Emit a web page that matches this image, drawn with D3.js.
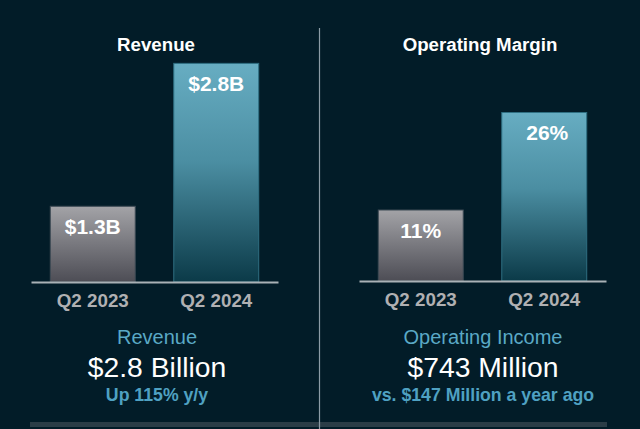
<!DOCTYPE html>
<html><head><meta charset="utf-8">
<script src="https://cdn.jsdelivr.net/npm/d3@7"></script>
<style>
html,body{margin:0;padding:0;background:#021c28;}
svg{display:block;font-family:"Liberation Sans",Arial,sans-serif;}
</style></head>
<body>
<script>
const categories = ["Q2 2023", "Q2 2024"];
const revenueValues = [1.3, 2.8];
const revenueLabels = ["$1.3B", "$2.8B"];
const marginValues = [11, 26];
const marginLabels = ["11%", "26%"];
const panelTitles = ["Revenue", "Operating Margin"];
const footHeads = ["Revenue", "Operating Income"];
const footMain = ["$2.8 Billion", "$743 Million"];
const footSub = ["Up 115% y/y", "vs. $147 Million a year ago"];

const W = 640, H = 429;
const svg = d3.select("body").append("svg").attr("width", W).attr("height", H);
svg.append("rect").attr("width", W).attr("height", H).attr("fill", "#021c28");

const defs = svg.append("defs");
const gGray = defs.append("linearGradient").attr("id", "gGray").attr("x1", 0).attr("y1", 0).attr("x2", 0).attr("y2", 1);
gGray.append("stop").attr("offset", "0%").attr("stop-color", "#a3a3a7");
gGray.append("stop").attr("offset", "100%").attr("stop-color", "#4d4d55");
const gTeal = defs.append("linearGradient").attr("id", "gTeal").attr("x1", 0).attr("y1", 0).attr("x2", 0).attr("y2", 1);
gTeal.append("stop").attr("offset", "0%").attr("stop-color", "#67adc2");
gTeal.append("stop").attr("offset", "45%").attr("stop-color", "#4b8ea2");
gTeal.append("stop").attr("offset", "100%").attr("stop-color", "#0b3a48");
const fills = ["url(#gGray)", "url(#gTeal)"];
const strokes = ["#3d4a55", "#2f6f82"];

const panels = [
  {x0: 31, x1: 278, base: 282, domain: [0.5, 3.0], top: 43.8, vals: revenueValues, labels: revenueLabels, cx: 156, fx: 157},
  {x0: 359, x1: 606, base: 281, domain: [0, 30], top: 86, vals: marginValues, labels: marginLabels, cx: 480, fx: 483}
];

panels.forEach((p, i) => {
  const x = d3.scaleBand().domain(categories).range([p.x0, p.x1]).paddingInner(0.304).paddingOuter(0.152);
  const y = d3.scaleLinear().domain(p.domain).range([p.base, p.top]);
  const g = svg.append("g");

  g.append("text").attr("x", p.cx).attr("y", 51).attr("text-anchor", "middle")
    .attr("fill", "#ffffff").attr("font-weight", "bold").attr("font-size", 18.7).text(panelTitles[i]);

  g.selectAll("rect.bar").data(p.vals).join("rect").attr("class", "bar")
    .attr("x", (d, j) => x(categories[j]) + 0.5)
    .attr("y", d => y(d) + 0.5)
    .attr("width", x.bandwidth() - 1)
    .attr("height", d => p.base - y(d) - 0.5)
    .attr("fill", (d, j) => fills[j])
    .attr("stroke", (d, j) => strokes[j]).attr("stroke-width", 1);

  g.selectAll("text.val").data(p.vals).join("text").attr("class", "val")
    .attr("x", (d, j) => x(categories[j]) + x.bandwidth() / 2 + (i === 1 && j === 1 ? 3 : 0))
    .attr("y", d => y(d) + 28)
    .attr("text-anchor", "middle").attr("fill", "#ffffff")
    .attr("font-weight", "bold").attr("font-size", 21)
    .text((d, j) => p.labels[j]);

  const axis = d3.axisBottom(x).tickSize(0).tickPadding(0);
  const ag = g.append("g").attr("transform", `translate(0,${p.base})`).call(axis);
  ag.select(".domain").attr("stroke", "#a9b1b6").attr("stroke-width", 2);
  ag.selectAll(".tick text").attr("fill", "#b0b0b2").attr("font-weight", "bold")
    .attr("font-size", 18.8).attr("font-family", "Liberation Sans, Arial, sans-serif")
    .attr("dy", 0).attr("y", 25);

  g.append("text").attr("x", p.fx).attr("y", 344).attr("text-anchor", "middle")
    .attr("fill", "#5aa9c6").attr("font-size", 20).text(footHeads[i]);
  g.append("text").attr("x", p.fx).attr("y", 377).attr("text-anchor", "middle")
    .attr("fill", "#ffffff").attr("font-size", 28.3).text(footMain[i]);
  g.append("text").attr("x", p.fx).attr("y", 401).attr("text-anchor", "middle")
    .attr("fill", "#4fa1c2").attr("font-weight", "bold").attr("font-size", 17.7).text(footSub[i]);
});

svg.append("rect").attr("x", 30).attr("y", 422).attr("width", 577).attr("height", 5).attr("fill", "#2b3d47");
svg.append("line").attr("x1", 319.5).attr("x2", 319.5).attr("y1", 28).attr("y2", H)
  .attr("stroke", "#8c9ca6").attr("stroke-width", 1.2);
</script>
</body></html>
